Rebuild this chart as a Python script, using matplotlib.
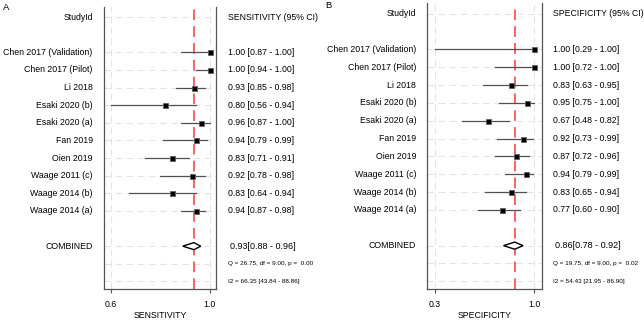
import matplotlib
matplotlib.use("Agg")
import matplotlib.pyplot as plt
import matplotlib.transforms as mtransforms
from matplotlib.patches import Polygon

plt.rcParams['font.family'] = ['Liberation Sans', 'DejaVu Sans']

# --- data ---
studies = ["Chen 2017 (Validation)", "Chen 2017 (Pilot)", "Li 2018", "Esaki 2020 (b)",
           "Esaki 2020 (a)", "Fan 2019", "Oien 2019", "Waage 2011 (c)",
           "Waage 2014 (b)", "Waage 2014 (a)"]

sens = [1.00, 1.00, 0.93, 0.80, 0.96, 0.94, 0.83, 0.92, 0.83, 0.94]
sens_lo = [0.87, 0.94, 0.85, 0.56, 0.87, 0.79, 0.71, 0.78, 0.64, 0.87]
sens_hi = [1.00, 1.00, 0.98, 0.94, 1.00, 0.99, 0.91, 0.98, 0.94, 0.98]
sens_pool = [0.93, 0.88, 0.96]
sens_q = "Q = 26.75, df = 9.00, p =  0.00"
sens_i2 = "I2 = 66.35 [43.84 - 88.86]"

spec = [1.00, 1.00, 0.83, 0.95, 0.67, 0.92, 0.87, 0.94, 0.83, 0.77]
spec_lo = [0.29, 0.72, 0.63, 0.75, 0.48, 0.73, 0.72, 0.79, 0.65, 0.60]
spec_hi = [1.00, 1.00, 0.95, 1.00, 0.82, 0.99, 0.96, 0.99, 0.94, 0.90]
spec_pool = [0.86, 0.78, 0.92]
spec_q = "Q = 19.75, df = 9.00, p =  0.02"
spec_i2 = "I2 = 54.43 [21.95 - 86.90]"

W, H = 644, 322
FS = 6.3      # main text size
FS_SMALL = 4.6
fig = plt.figure(figsize=(W / 100, H / 100), dpi=100)


def forest(letter, px, name, est, lo, hi, pool, qtxt, i2txt, xlim, ticks, ticklabels):
    left, right, top, bottom, lab_x, txt_x, let_x, let_y = px
    ax = fig.add_axes([left / W, 1 - bottom / H, (right - left) / W, (bottom - top) / H])
    ax.set_xlim(*xlim)
    ax.set_ylim(15.43, -0.57)
    rows_study = list(range(2, 2 + len(studies)))
    # grid lines
    for r in [0] + rows_study + [13, 14, 15]:
        ax.axhline(r, color='#e4e4e4', lw=0.8, ls=(0, (6, 4)), zorder=0)
    for t in ticks:
        ax.axvline(t, color='#e4e4e4', lw=0.8, ls=(0, (6, 4)), zorder=0)
    ax.axvline(pool[0], color='#f03c3c', lw=1.1, ls=(0, (7, 4)), zorder=1)
    # studies
    for r, e, l, h in zip(rows_study, est, lo, hi):
        ax.plot([max(l, xlim[0]), h], [r, r], color='#505050', lw=0.9, zorder=2)
        ax.plot(e, r, marker='s', ms=3.6, mfc='black', mec='#606060', mew=0.6, zorder=3)
    # pooled diamond
    d = Polygon([[pool[1], 13], [pool[0], 12.8], [pool[2], 13], [pool[0], 13.2]],
                closed=True, facecolor='white', edgecolor='black', lw=1.0, zorder=3)
    ax.add_patch(d)

    ax.spines['top'].set_visible(False)
    for s in ['left', 'right', 'bottom']:
        ax.spines[s].set_color('#555555')
        ax.spines[s].set_linewidth(0.9)
    ax.set_yticks([])
    ax.set_xticks(ticks)
    ax.set_xticklabels(ticklabels, fontsize=FS)
    ax.tick_params(axis='x', length=3, width=0.8, color='#555555', pad=5)
    ax.set_xlabel(name, fontsize=FS, labelpad=1)

    tr = mtransforms.blended_transform_factory(fig.transFigure, ax.transData)
    ax.text(lab_x / W, 0, "StudyId", transform=tr, ha='right', va='center', fontsize=FS)
    ax.text(txt_x / W, 0, name + " (95% CI)", transform=tr, ha='left', va='center', fontsize=FS)
    for r, s, e, l, h in zip(rows_study, studies, est, lo, hi):
        ax.text(lab_x / W, r, s, transform=tr, ha='right', va='center', fontsize=FS)
        ax.text(txt_x / W, r, f"{e:.2f} [{l:.2f} - {h:.2f}]", transform=tr,
                ha='left', va='center', fontsize=FS)
    ax.text(lab_x / W, 13, "COMBINED", transform=tr, ha='right', va='center', fontsize=FS)
    ax.text((txt_x + 2) / W, 13, f"{pool[0]:.2f}[{pool[1]:.2f} - {pool[2]:.2f}]", transform=tr,
            ha='left', va='center', fontsize=FS + 0.2)
    ax.text(txt_x / W, 14, qtxt, transform=tr, ha='left', va='center', fontsize=FS_SMALL)
    ax.text(txt_x / W, 15, i2txt, transform=tr, ha='left', va='center', fontsize=FS_SMALL)
    fig.text(let_x / W, 1 - let_y / H, letter, ha='left', va='center', fontsize=FS + 0.5)
    return ax


forest("A", (104.3, 215.7, 7, 289, 92.7, 227.7, 3, 8), "SENSITIVITY",
       sens, sens_lo, sens_hi, sens_pool, sens_q, sens_i2,
       (0.530, 1.027), [0.56, 1.0], ["0.6", "1.0"])
forest("B", (426.7, 541.7, 3.5, 289, 416.3, 552.7, 325, 6), "SPECIFICITY",
       spec, spec_lo, spec_hi, spec_pool, spec_q, spec_i2,
       (0.231, 1.053), [0.29, 1.0], ["0.3", "1.0"])

fig.savefig("out.png", dpi=100)
